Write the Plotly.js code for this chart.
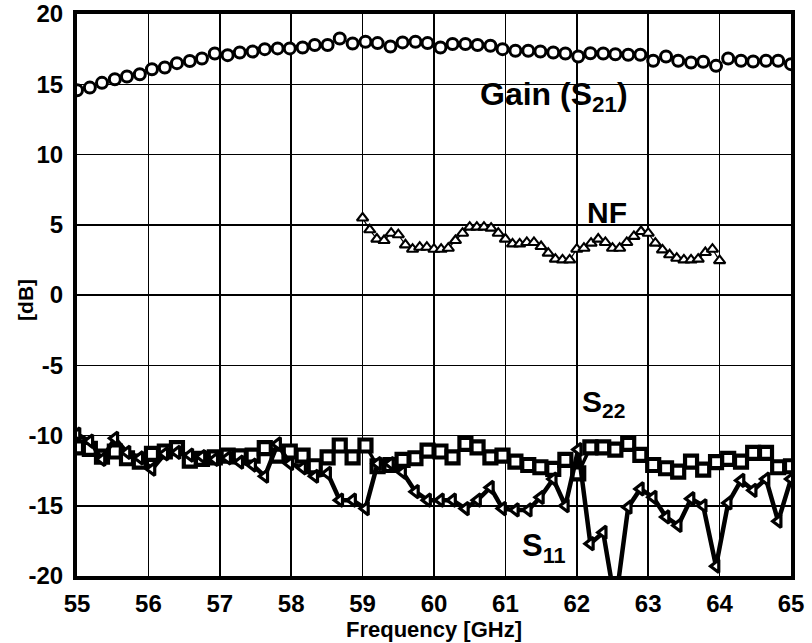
<!DOCTYPE html>
<html>
<head>
<meta charset="utf-8">
<script src="https://cdn.plot.ly/plotly-3.0.1.min.js"></script>
<style>html,body{margin:0;padding:0;background:#fff;}#chart{width:812px;height:643px;}</style>
</head>
<body>
<div id="chart"></div>
<script>
// Frequency sweep (GHz) shared by Gain, S22 and S11
const freq = [55.00,55.18,55.35,55.53,55.70,55.88,56.05,56.23,56.40,56.58,56.75,56.93,57.11,57.28,57.46,57.63,57.81,57.98,58.16,58.33,58.51,58.68,58.86,59.04,59.21,59.39,59.56,59.74,59.91,60.09,60.26,60.44,60.61,60.79,60.96,61.14,61.32,61.49,61.67,61.84,62.02,62.19,62.37,62.54,62.72,62.89,63.07,63.25,63.42,63.60,63.77,63.95,64.12,64.30,64.47,64.65,64.82,65.00];

const gainS21 = [14.57,14.76,15.10,15.36,15.55,15.71,16.07,16.19,16.50,16.66,16.83,17.19,17.07,17.26,17.33,17.50,17.55,17.55,17.62,17.79,17.79,18.26,17.90,18.02,17.93,17.69,17.98,18.02,17.93,17.62,17.86,17.86,17.79,17.74,17.50,17.38,17.38,17.33,17.26,17.19,16.98,17.21,17.19,17.14,17.10,17.10,16.67,16.98,16.67,16.55,16.60,16.31,16.83,16.67,16.62,16.67,16.67,16.43];

const s22 = [-10.84,-10.95,-11.50,-11.14,-11.62,-11.86,-11.31,-11.14,-10.90,-11.79,-11.67,-11.55,-11.43,-11.48,-11.43,-10.90,-11.43,-11.14,-11.43,-12.19,-11.55,-10.71,-11.55,-10.71,-12.19,-12.10,-11.74,-11.62,-11.07,-11.14,-11.55,-10.60,-10.84,-11.55,-11.43,-11.86,-12.10,-12.26,-12.38,-11.74,-12.69,-10.84,-10.84,-11.00,-10.60,-11.38,-12.10,-12.33,-12.57,-11.86,-12.43,-11.90,-11.67,-11.86,-11.24,-11.24,-12.26,-12.19];

const s11 = [-9.9,-10.4,-11.7,-10.2,-11.2,-11.6,-12.4,-11.3,-11.2,-11.4,-11.5,-11.7,-11.6,-11.9,-12.1,-12.9,-10.6,-12.0,-12.3,-12.9,-12.7,-14.6,-14.6,-15.2,-12.0,-12.0,-12.6,-14.0,-14.6,-14.6,-14.6,-15.2,-14.6,-13.7,-15.2,-15.3,-15.3,-14.4,-13.1,-15.0,-11.0,-17.7,-16.9,-22.0,-15.1,-13.8,-14.4,-15.8,-16.4,-14.5,-15.0,-19.3,-14.8,-13.2,-13.9,-13.1,-16.1,-13.1];

// Noise figure sweep
const nfFreq = [59.0,59.1,59.2,59.3,59.4,59.5,59.6,59.7,59.8,59.9,60.0,60.1,60.2,60.3,60.4,60.5,60.6,60.7,60.8,60.9,61.0,61.1,61.2,61.3,61.4,61.5,61.6,61.7,61.8,61.9,62.0,62.1,62.2,62.3,62.4,62.5,62.6,62.7,62.8,62.9,63.0,63.1,63.2,63.3,63.4,63.5,63.6,63.7,63.8,63.9,64.0];
const nf = [5.48,4.64,3.98,3.88,4.40,4.29,3.57,3.26,3.40,3.40,3.26,3.26,3.33,3.88,4.40,4.83,4.83,4.83,4.76,4.40,3.98,3.64,3.64,3.74,3.74,3.45,2.98,2.55,2.50,2.50,3.26,3.33,3.69,3.98,3.74,3.33,3.33,3.74,4.17,4.52,4.40,3.69,3.21,2.86,2.62,2.50,2.50,2.55,3.02,3.26,2.45];

const xTicks = [55,56,57,58,59,60,61,62,63,64,65];
const yTicks = [-20,-15,-10,-5,0,5,10,15,20];

const FONT = 'Liberation Sans, Arial, sans-serif';

const traces = [
  {x: freq, y: s22, mode: 'lines+markers', name: 'S22',
   line: {color: '#000', width: 3.5},
   marker: {symbol: 'square', size: 12, color: '#fff', line: {color: '#000', width: 4.2}}},
  {x: freq, y: s11, mode: 'lines+markers', name: 'S11',
   line: {color: '#000', width: 4.5},
   marker: {symbol: 'triangle-left', size: 11, color: '#fff', line: {color: '#000', width: 3.2}}},
  {x: nfFreq, y: nf, mode: 'lines+markers', name: 'NF',
   line: {color: '#000', width: 1.2},
   marker: {symbol: 'triangle-up', size: 10, color: '#fff', line: {color: '#000', width: 2.1}}},
  {x: freq, y: gainS21, mode: 'lines+markers', name: 'Gain',
   line: {color: '#000', width: 1},
   marker: {symbol: 'circle', size: 11, color: '#fff', line: {color: '#000', width: 3}}}
];

const layout = {
  width: 812, height: 643,
  margin: {l: 77, r: 21, t: 14, b: 67},
  paper_bgcolor: '#fff', plot_bgcolor: '#fff',
  showlegend: false,
  font: {family: FONT, color: '#000'},
  xaxis: {
    range: [55, 65], tickvals: xTicks, ticktext: xTicks.map(String),
    showgrid: true, gridcolor: '#000', gridwidth: 1.5,
    showline: true, linecolor: '#000', linewidth: 4, mirror: true,
    ticks: '', zeroline: false, ticklabelstandoff: 3,
    tickfont: {family: FONT, size: 24, weight: 'bold', color: '#000'},
    title: {text: 'Frequency [GHz]', standoff: 4, font: {family: FONT, size: 22, weight: 'bold', color: '#000'}}
  },
  yaxis: {
    range: [-20, 20], tickvals: yTicks, ticktext: yTicks.map(String),
    showgrid: true, gridcolor: '#000', gridwidth: 1.5,
    showline: true, linecolor: '#000', linewidth: 4, mirror: true,
    ticks: '', zeroline: false, ticklabelstandoff: 5,
    tickfont: {family: FONT, size: 24, weight: 'bold', color: '#000'}
  },
  annotations: [
    {x: -0.073, y: -0.36, xref: 'paper', yref: 'y', xanchor: 'center', yanchor: 'middle', showarrow: false,
     textangle: -90, text: '[dB]', font: {family: FONT, size: 21, weight: 'bold', color: '#000'}},
    {x: 60.62, y: 14.1, xref: 'x', yref: 'y', xanchor: 'left', yanchor: 'middle', showarrow: false,
     text: 'Gain (S<sub>21</sub>)', font: {family: FONT, size: 32, weight: 'bold', color: '#000'}},
    {x: 62.12, y: 5.84, xref: 'x', yref: 'y', xanchor: 'left', yanchor: 'middle', showarrow: false,
     text: 'NF', font: {family: FONT, size: 30, weight: 'bold', color: '#000'}},
    {x: 62.05, y: -7.7, xref: 'x', yref: 'y', xanchor: 'left', yanchor: 'middle', showarrow: false,
     text: 'S<sub>22</sub>', font: {family: FONT, size: 30, weight: 'bold', color: '#000'}},
    {x: 61.21, y: -18.0, xref: 'x', yref: 'y', xanchor: 'left', yanchor: 'middle', showarrow: false,
     text: 'S<sub>11</sub>', font: {family: FONT, size: 31, weight: 'bold', color: '#000'}}
  ]
};

Plotly.newPlot('chart', traces, layout, {displayModeBar: false, staticPlot: true});
</script>
</body>
</html>
